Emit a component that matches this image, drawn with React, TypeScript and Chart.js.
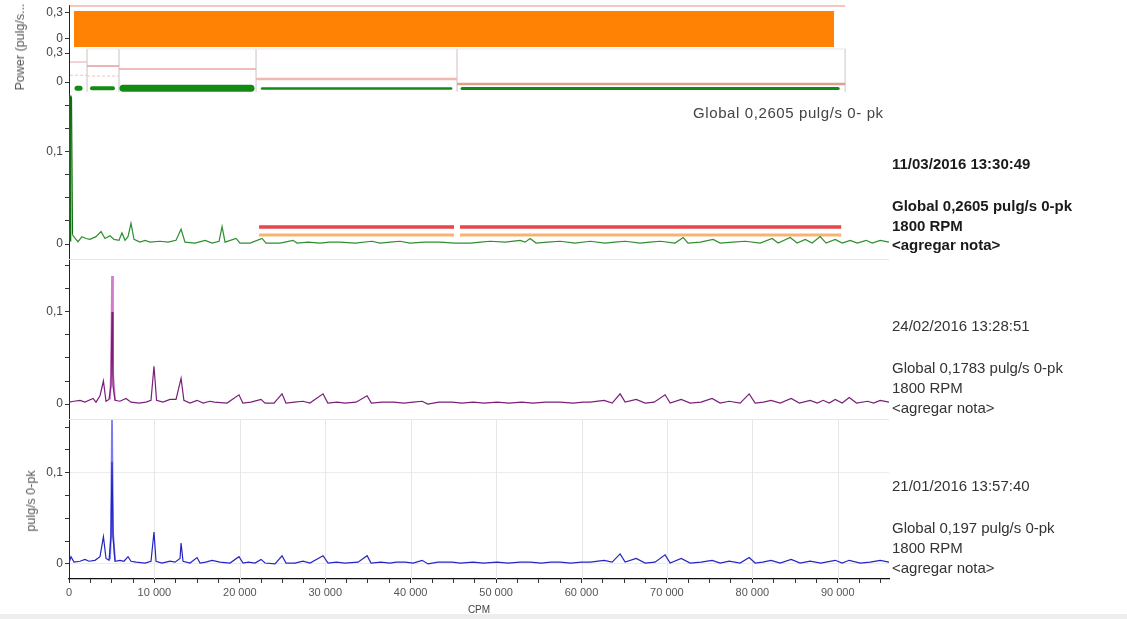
import React, { useEffect, useRef } from 'react';
import { Chart, registerables } from 'chart.js';

Chart.register(...registerables);

// ---------- axis / tick data ----------
const X_MIN = 0;
const X_MAX = 96000;
const xMajorTicks = [0, 10000, 20000, 30000, 40000, 50000, 60000, 70000, 80000, 90000];
const spectrumTicks = [0, 0.025, 0.05, 0.075, 0.1, 0.125, 0.15];
const spectrumLabels = [0, 0.1];
const powerTicks = [0, 0.3];

// ---------- power band 1 (orange) ----------
const orangeStart = 585;
const orangeEnd = 89580;
const orangeHigh = 0.323;
const orangeLow = -0.092;
const band1PinkStart = 100;
const band1PinkEnd = 90870;
const band1PinkLevel = 0.381;

// ---------- power band 2 ----------
const bandSegStart = [120, 2108, 5855, 21900, 45430];
const bandSegEnd = [2108, 5855, 21900, 45430, 90870];
const bandSegLevel = [0.207, 0.165, 0.134, 0.031, -0.021];
const bandSegColors = ['#f2c4c4', '#e89a9a', '#e8a8a8', '#f0b8b2', '#dca08c'];
const bandSegWidths = [1.5, 1.5, 1.5, 2.5, 2.5];
const bandLightStart = [120, 2108];
const bandLightEnd = [2108, 5855];
const bandLightLevel = [0.07, 0.062];
const bandSeparators = [2108, 5855, 21900, 45430, 90870];
const bandTopStart = 2108;
const bandTopEnd = 90870;
const bandTopLevel = 0.342;
const greenBarStart = [940, 2690, 6320, 22600, 46020];
const greenBarEnd = [1290, 5150, 21310, 44730, 90050];
const greenBarLevel = [-0.064, -0.064, -0.064, -0.068, -0.068];
const greenBarWidths = [5, 4, 7, 2.5, 3];

// ---------- spectrum 1: 11/03/2016 (green) ----------
const greenCpm = [0, 117, 290, 410, 700, 1050, 1520, 1990, 2460, 3160, 3750, 4215, 4800, 5270, 5855, 6200, 6560, 6910, 7260, 7610, 8310, 8900, 9490, 10660, 11590, 12530, 13120, 13580, 14760, 15930, 16750, 17570, 17920, 18270, 19560, 20020, 21200, 22600, 23070, 24710, 26230, 26700, 28000, 29390, 30500, 31730, 33490, 35480, 36420, 37600, 38760, 39930, 41600, 43440, 45200, 46960, 48200, 49300, 51060, 52810, 53400, 53980, 54690, 56000, 57500, 59250, 61010, 62770, 63900, 65110, 66860, 68000, 69210, 70960, 71900, 72480, 73900, 75410, 76230, 77700, 79160, 80920, 82320, 83020, 84430, 85250, 86190, 87000, 87940, 88640, 89700, 90520, 91460, 92280, 93330, 94030, 94970, 96000];
const greenAmp = [0.004, 0.16, 0.16, 0.01, 0.0065, 0.0025, 0.008, 0.006, 0.005, 0.008, 0.0135, 0.006, 0.009, 0.005, 0.004, 0.012, 0.004, 0.008, 0.0225, 0.005, 0.002, 0.004, 0.002, 0.003, 0.002, 0.004, 0.016, 0.002, 0.001, 0.004, 0.001, 0.003, 0.019, 0.002, 0.006, 0.001, 0.001, 0.006, 0.001, 0.001, 0.004, 0.001, 0.002, 0.001, 0.002, 0.002, 0.001, 0.003, 0.001, 0.002, 0.003, 0.001, 0.002, 0.002, 0.001, 0.001, 0.002, 0.003, 0.002, 0.004, 0.002, 0.006, 0.001, 0.002, 0.003, 0.001, 0.003, 0.001, 0.002, 0.003, 0.001, 0.002, 0.003, 0.001, 0.007, 0.001, 0.002, 0.005, 0.001, 0.002, 0.003, 0.001, 0.006, 0.001, 0.007, 0.001, 0.005, 0.001, 0.008, 0.001, 0.005, 0.001, 0.004, 0.001, 0.004, 0.001, 0.004, 0.002];
const alarmStart = [22250, 45780];
const alarmEnd = [45080, 90400];
const alarmHigh = 0.0185;
const alarmLow = 0.0098;

// ---------- spectrum 2: 24/02/2016 (purple) ----------
const purpleCpm = [0, 585, 1290, 1870, 2340, 2810, 3160, 3630, 4030, 4330, 4680, 4920, 5035, 5150, 5390, 5970, 6670, 7260, 8200, 9000, 9600, 9950, 10250, 11000, 11830, 12530, 13120, 13450, 14170, 14990, 15700, 16500, 17000, 18500, 19900, 20350, 21300, 22480, 22950, 24000, 24940, 25400, 26400, 27400, 28200, 29740, 30300, 31400, 32300, 33600, 34900, 35400, 36700, 38000, 39200, 40300, 41340, 42000, 43300, 44850, 46000, 47300, 48600, 50120, 51500, 53000, 54300, 55800, 57500, 59000, 60200, 61010, 62650, 63590, 64520, 65110, 66400, 67450, 68500, 69790, 70380, 71670, 72720, 74000, 75290, 76230, 77290, 78570, 79630, 80330, 81300, 82200, 83260, 84550, 85500, 86770, 87600, 88300, 89000, 89700, 90520, 91340, 92200, 93500, 94200, 94970, 96000];
const purpleAmp = [0.002, 0.003, 0.004, 0.002, 0.004, 0.006, 0.002, 0.009, 0.025, 0.003, 0.005, 0.02, 0.1, 0.02, 0.004, 0.003, 0.006, 0.002, 0.001, 0.002, 0.004, 0.041, 0.004, 0.002, 0.005, 0.005, 0.028, 0.004, 0.001, 0.004, 0.001, 0.003, 0.002, 0.001, 0.01, 0.001, 0.002, 0.005, 0.001, 0.001, 0.011, 0.001, 0.002, 0.003, 0.001, 0.011, 0.001, 0.002, 0.001, 0.002, 0.009, 0.001, 0.002, 0.002, 0.001, 0.002, 0.003, 0.0, 0.002, 0.002, 0.001, 0.002, 0.001, 0.002, 0.001, 0.002, 0.001, 0.002, 0.002, 0.001, 0.002, 0.002, 0.004, 0.001, 0.011, 0.002, 0.005, 0.001, 0.002, 0.01, 0.001, 0.005, 0.001, 0.002, 0.006, 0.001, 0.003, 0.001, 0.011, 0.001, 0.002, 0.004, 0.001, 0.006, 0.001, 0.004, 0.001, 0.004, 0.001, 0.005, 0.001, 0.007, 0.001, 0.003, 0.001, 0.004, 0.002];
const purpleLightCpm = [4800, 4920, 5035, 5150, 5390];
const purpleLightAmp = [0.005, 0.035, 0.139, 0.035, 0.004];

// ---------- spectrum 3: 21/01/2016 (blue) ----------
const blueCpm = [0, 234, 585, 1288, 1874, 2342, 3045, 3630, 4030, 4333, 4684, 4918, 5035, 5152, 5387, 5972, 6440, 6909, 7260, 7846, 8900, 9600, 9950, 10190, 10890, 11830, 12410, 13000, 13120, 13350, 14170, 14990, 15340, 16000, 16750, 17680, 18850, 19900, 20380, 21000, 21780, 22480, 22950, 24120, 24940, 25410, 26460, 27400, 28220, 29740, 30330, 31300, 32320, 33840, 34900, 35360, 36500, 37590, 38300, 39350, 40300, 41340, 42040, 43200, 44850, 45800, 47310, 48500, 50120, 51400, 52810, 54000, 55300, 56400, 57500, 58700, 60000, 61010, 62650, 63590, 64520, 65110, 66400, 67450, 68600, 69790, 70380, 71670, 72720, 74000, 75290, 76230, 77290, 78570, 79630, 80330, 81200, 82200, 83260, 84550, 85600, 86770, 88000, 89700, 90520, 91340, 92630, 93800, 94970, 96000];
const blueAmp = [0.001, 0.008, 0.002, 0.003, 0.005, 0.003, 0.004, 0.008, 0.03, 0.006, 0.004, 0.03, 0.112, 0.03, 0.003, 0.004, 0.003, 0.008, 0.003, 0.002, 0.001, 0.003, 0.035, 0.003, 0.001, 0.003, 0.002, 0.006, 0.023, 0.003, 0.001, 0.007, 0.001, 0.002, 0.004, 0.002, 0.001, 0.008, 0.001, 0.002, 0.001, 0.005, 0.001, 0.0, 0.009, 0.001, 0.001, 0.003, 0.001, 0.009, 0.001, 0.002, 0.001, 0.002, 0.009, 0.001, 0.002, 0.001, 0.002, 0.002, 0.001, 0.004, 0.0, 0.002, 0.002, 0.001, 0.002, 0.001, 0.002, 0.001, 0.002, 0.002, 0.001, 0.002, 0.002, 0.001, 0.002, 0.002, 0.004, 0.002, 0.011, 0.002, 0.006, 0.001, 0.002, 0.01, 0.001, 0.006, 0.001, 0.002, 0.004, 0.001, 0.003, 0.001, 0.007, 0.001, 0.002, 0.004, 0.001, 0.005, 0.001, 0.003, 0.001, 0.004, 0.001, 0.004, 0.001, 0.002, 0.004, 0.002];
const blueLightCpm = [4800, 4918, 5035, 5152, 5387];
const blueLightAmp = [0.005, 0.035, 0.158, 0.035, 0.004];

// ---------- helpers ----------
const pts = (xs: number[], ys: number[]) => xs.map((x, i) => ({ x, y: ys[i] }));
const segPts = (starts: number[], ends: number[], level: number) => {
  const out: any[] = [];
  starts.forEach((s, i) => {
    out.push({ x: s, y: level }, { x: ends[i], y: level });
    if (i < starts.length - 1) out.push({ x: ends[i], y: null });
  });
  return out;
};
const fmtThousands = (v: number) => String(v).replace(/\B(?=(\d{3})+(?!\d))/g, ' ');
const fmtDec = (v: number) => (v === 0 ? '0' : String(v).replace('.', ','));

const FONT = "'Liberation Sans', Arial, sans-serif";

const yAxis = (weight: number, min: number, max: number, tickVals: number[], labelVals: number[], extraGrid: any = {}) => ({
  type: 'linear',
  position: 'left',
  stack: 'panels',
  stackWeight: weight,
  min,
  max,
  border: { display: true, color: '#222', width: 1 },
  grid: { drawOnChartArea: false, tickLength: 4, tickColor: '#333', ...extraGrid },
  ticks: {
    font: { size: 12, family: FONT },
    color: '#444',
    padding: 2,
    autoSkip: false,
    callback: (v: number) => (labelVals.includes(v) ? fmtDec(v) : ''),
  },
  afterBuildTicks: (s: any) => {
    s.ticks = tickVals.map((value) => ({ value }));
  },
  afterFit: (s: any) => {
    s.width = 69;
    s.paddingTop = 0;
    s.paddingBottom = 0;
  },
});

const panelGrid = {
  id: 'panelGrid',
  beforeDatasetsDraw(chart: any) {
    const { ctx, scales } = chart;
    const x = scales.x;
    const yb = scales.yBl;
    ctx.save();
    ctx.strokeStyle = '#e6e6e6';
    ctx.lineWidth = 1;
    xMajorTicks.slice(1).forEach((v) => {
      const px = Math.round(x.getPixelForValue(v)) + 0.5;
      ctx.beginPath();
      ctx.moveTo(px, yb.top);
      ctx.lineTo(px, yb.bottom);
      ctx.stroke();
    });
    [scales.yG, scales.yP].forEach((s: any) => {
      const py = Math.round(s.bottom) + 0.5;
      ctx.beginPath();
      ctx.moveTo(x.left, py);
      ctx.lineTo(x.right, py);
      ctx.stroke();
    });
    ctx.restore();
  },
};

function buildDatasets() {
  const ds: any[] = [];
  const line = (data: any[], yAxisID: string, color: string, width: number, extra: any = {}) => ({
    data,
    yAxisID,
    xAxisID: 'x',
    borderColor: color,
    backgroundColor: color,
    borderWidth: width,
    pointRadius: 0,
    tension: 0,
    fill: false,
    spanGaps: false,
    ...extra,
  });

  // spectra (dark lines first = on top)
  ds.push(
    line(pts(greenCpm, greenAmp), 'yG', '#2e8e2e', 1.2, {
      segment: {
        borderWidth: (c: any) => (c.p0DataIndex < 2 ? 2.6 : undefined),
        borderColor: (c: any) => (c.p0DataIndex < 3 ? '#146c14' : undefined),
      },
    })
  );
  ds.push(line(segPts(alarmStart, alarmEnd, alarmHigh), 'yG', '#e8474a', 3.5, { borderCapStyle: 'butt' }));
  ds.push(line(segPts(alarmStart, alarmEnd, alarmLow), 'yG', '#f6b46e', 3, { borderCapStyle: 'butt' }));
  ds.push(line(pts(purpleCpm, purpleAmp), 'yP', '#7a1f78', 1.2));
  ds.push(line(pts(purpleLightCpm, purpleLightAmp), 'yP', '#d37ccf', 1.8));
  ds.push(line(pts(blueCpm, blueAmp), 'yBl', '#2424c4', 1.2));
  ds.push(line(pts(blueLightCpm, blueLightAmp), 'yBl', '#7a7af2', 1.8));

  // band 2
  greenBarStart.forEach((s, i) => {
    ds.push(line([{ x: s, y: greenBarLevel[i] }, { x: greenBarEnd[i], y: greenBarLevel[i] }], 'yB2', '#138a13', greenBarWidths[i], { borderCapStyle: 'round' }));
  });
  bandSegStart.forEach((s, i) => {
    ds.push(line([{ x: s, y: bandSegLevel[i] }, { x: bandSegEnd[i], y: bandSegLevel[i] }], 'yB2', bandSegColors[i], bandSegWidths[i]));
  });
  bandLightStart.forEach((s, i) => {
    ds.push(line([{ x: s, y: bandLightLevel[i] }, { x: bandLightEnd[i], y: bandLightLevel[i] }], 'yB2', '#f6c2c2', 1, { borderDash: [3, 2] }));
  });
  const sepData: any[] = [];
  bandSeparators.forEach((x, i) => {
    sepData.push({ x, y: bandTopLevel }, { x, y: -0.1 });
    if (i < bandSeparators.length - 1) sepData.push({ x, y: null });
  });
  ds.push(line(sepData, 'yB2', '#e2dcdc', 1));
  ds.push(line([{ x: bandTopStart, y: bandTopLevel }, { x: bandTopEnd, y: bandTopLevel }], 'yB2', '#ece4e4', 1));

  // band 1
  ds.push(line([{ x: band1PinkStart, y: band1PinkLevel }, { x: band1PinkEnd, y: band1PinkLevel }], 'yB1', '#f3c6c0', 2));
  ds.push(line([{ x: orangeStart, y: orangeHigh }, { x: orangeEnd, y: orangeHigh }], 'yB1', '#ff8205', 0, {
    fill: { value: orangeLow },
    backgroundColor: '#ff8205',
  }));
  return ds;
}

function SpectrumChart() {
  const ref = useRef<HTMLCanvasElement | null>(null);
  useEffect(() => {
    if (!ref.current) return;
    const blueGrid = {
      drawOnChartArea: true,
      color: (c: any) => (c.tick && (c.tick.value === 0 || c.tick.value === 0.1) ? '#ececec' : 'rgba(0,0,0,0)'),
    };
    const chart = new Chart(ref.current, {
      type: 'line',
      data: { datasets: buildDatasets() },
      plugins: [panelGrid],
      options: {
        responsive: false,
        maintainAspectRatio: false,
        animation: false,
        layout: { padding: { left: 0, right: 238, top: 5, bottom: 0 } },
        plugins: { legend: { display: false }, tooltip: { enabled: false } },
        elements: { point: { radius: 0 } },
        scales: {
          x: {
            type: 'linear',
            position: 'bottom',
            min: X_MIN,
            max: X_MAX,
            border: { display: true, color: '#111', width: 1.2 },
            grid: { drawOnChartArea: false, tickLength: 4, tickColor: '#333' },
            ticks: {
              font: { size: 11, family: FONT },
              color: '#555',
              padding: 3,
              autoSkip: false,
              maxRotation: 0,
              callback: (v: number) => (xMajorTicks.includes(v) ? fmtThousands(v) : ''),
            },
            afterBuildTicks: (s: any) => {
              const t: any[] = [];
              for (let i = 0; i < xMajorTicks.length; i++) {
                const a = xMajorTicks[i];
                t.push({ value: a });
                for (const f of [2500, 5000, 7500]) {
                  if (a + f < X_MAX) t.push({ value: a + f });
                }
              }
              s.ticks = t;
            },
            title: { display: true, text: 'CPM', font: { size: 10, family: FONT }, color: '#444', padding: { top: 0, bottom: 3 } },
            afterFit: (s: any) => {
              s.height = 40;
              s.paddingLeft = 0;
              s.paddingRight = 0;
            },
          },
          // stacked panels: first listed is placed at the bottom
          yBl: yAxis(160, -0.0165, 0.159, spectrumTicks, spectrumLabels, blueGrid),
          yP: yAxis(160, -0.0163, 0.1576, spectrumTicks, spectrumLabels),
          yG: yAxis(165, -0.0163, 0.163, spectrumTicks, spectrumLabels),
          yB2: yAxis(46, -0.124, 0.352, powerTicks, powerTicks),
          yB1: yAxis(43, -0.104, 0.392, powerTicks, powerTicks),
        } as any,
      },
    } as any);
    return () => chart.destroy();
  }, []);
  return <canvas ref={ref} width={1127} height={619} style={{ position: 'absolute', left: 0, top: 0 }} />;
}

const textBase: React.CSSProperties = {
  position: 'absolute',
  fontFamily: FONT,
  fontSize: 15,
  lineHeight: '17px',
  whiteSpace: 'nowrap',
  color: '#333',
};

const rightNotes = [
  { text: '11/03/2016 13:30:49', top: 154.5, bold: true },
  { text: 'Global 0,2605 pulg/s 0-pk', top: 196.5, bold: true },
  { text: '1800 RPM', top: 216.5, bold: true },
  { text: '<agregar nota>', top: 236, bold: true },
  { text: '24/02/2016 13:28:51', top: 316.5, bold: false },
  { text: 'Global 0,1783 pulg/s 0-pk', top: 358.5, bold: false },
  { text: '1800 RPM', top: 378.5, bold: false },
  { text: '<agregar nota>', top: 398.5, bold: false },
  { text: '21/01/2016 13:57:40', top: 476.5, bold: false },
  { text: 'Global 0,197 pulg/s 0-pk', top: 518.5, bold: false },
  { text: '1800 RPM', top: 538.5, bold: false },
  { text: '<agregar nota>', top: 558.5, bold: false },
];

export default function App() {
  return (
    <div style={{ position: 'absolute', left: 0, top: 0, width: 1127, height: 619, background: '#fff', overflow: 'hidden' }}>
      <SpectrumChart />
      <div style={{ ...textBase, left: 693, top: 103.5, color: '#444', letterSpacing: '0.6px' }}>Global 0,2605 pulg/s 0- pk</div>
      {rightNotes.map((n, i) => (
        <div key={i} style={{ ...textBase, left: 892, top: n.top, fontWeight: n.bold ? 'bold' : 'normal', color: n.bold ? '#1a1a1a' : '#333' }}>
          {n.text}
        </div>
      ))}
      <div
        style={{
          ...textBase,
          fontSize: 12.5,
          lineHeight: '14px',
          color: '#555',
          left: 20,
          top: 47,
          transform: 'translate(-50%, -50%) rotate(-90deg)',
        }}
      >
        Power (pulg/s...
      </div>
      <div
        style={{
          ...textBase,
          fontSize: 12.5,
          lineHeight: '14px',
          color: '#555',
          left: 31,
          top: 501,
          transform: 'translate(-50%, -50%) rotate(-90deg)',
        }}
      >
        pulg/s 0-pk
      </div>
      <div style={{ position: 'absolute', left: 0, top: 614, width: 1127, height: 5, background: '#eeeeee' }} />
    </div>
  );
}
